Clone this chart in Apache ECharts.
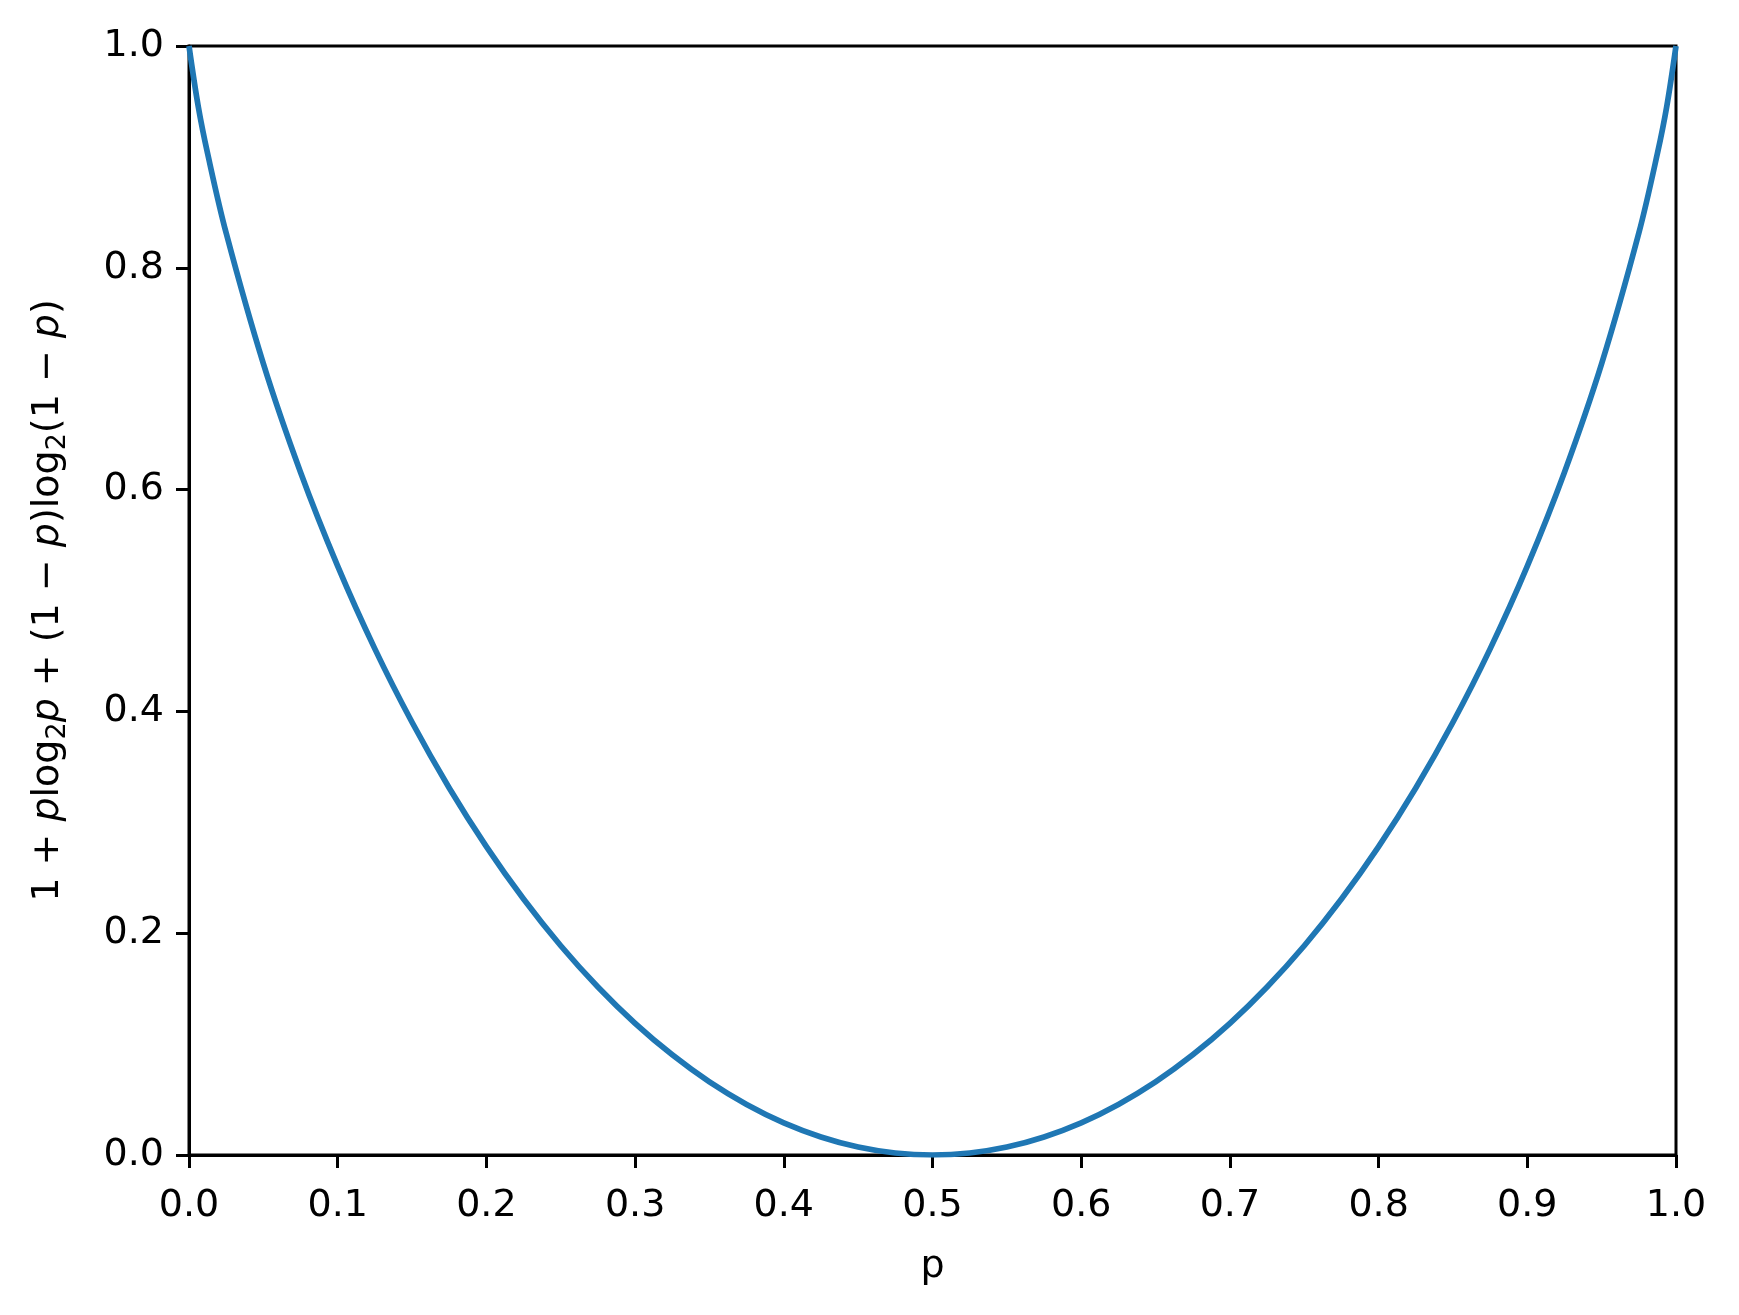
<!DOCTYPE html>
<html>
<head>
<meta charset="utf-8">
<script src="https://cdn.jsdelivr.net/npm/echarts@6/dist/echarts.min.js"></script>
<style>html,body{margin:0;padding:0;background:#fff;}#c{width:1739px;height:1315px;}</style>
</head>
<body>
<div id="c"></div>
<script>
// p values (x) and curve values
const pValues = [0, 0.00625, 0.0125, 0.025, 0.05, 0.075, 0.1, 0.125, 0.15, 0.175, 0.2, 0.225, 0.25, 0.275, 0.3, 0.325, 0.35, 0.375, 0.4, 0.425, 0.45, 0.475, 0.5,
  0.525, 0.55, 0.575, 0.6, 0.625, 0.65, 0.675, 0.7, 0.725, 0.75, 0.775, 0.8, 0.825, 0.85, 0.875, 0.9, 0.925, 0.95, 0.975, 0.9875, 0.99375, 1];
const curveValues = [1, 0.9452, 0.9031, 0.8313, 0.7136, 0.6157, 0.5310, 0.4564, 0.3902, 0.3310, 0.2781, 0.2308, 0.1887, 0.1515, 0.1187, 0.0903, 0.0659, 0.0456, 0.0290, 0.0163, 0.0072, 0.0018, 0,
  0.0018, 0.0072, 0.0163, 0.0290, 0.0456, 0.0659, 0.0903, 0.1187, 0.1515, 0.1887, 0.2308, 0.2781, 0.3310, 0.3902, 0.4564, 0.5310, 0.6157, 0.7136, 0.8313, 0.9031, 0.9452, 1];
const xTicks = [0.0, 0.1, 0.2, 0.3, 0.4, 0.5, 0.6, 0.7, 0.8, 0.9, 1.0];
const yTicks = [0.0, 0.2, 0.4, 0.6, 0.8, 1.0];

const chart = echarts.init(document.getElementById('c'), null, {renderer: 'canvas'});
const font = 'DejaVu Sans';
const axisLine = {show: true, onZero: false, lineStyle: {color: '#000', width: 3}};
const seriesData = pValues.map((p, i) => [p, curveValues[i]]);
const nTok = {fontFamily: font, fontSize: 38, color: '#000', lineHeight: 46};
chart.setOption({
  animation: false,
  backgroundColor: '#fff',
  grid: {left: 189, top: 46, right: 63, bottom: 160, show: true, borderColor: '#000', borderWidth: 3, containLabel: false},
  xAxis: {
    type: 'value', min: 0, max: 1, interval: 0.1,
    name: 'p', nameLocation: 'middle', nameGap: 93,
    nameTextStyle: {fontFamily: font, fontSize: 38, color: '#000'},
    axisLine: axisLine,
    axisTick: {show: true, inside: false, length: 13, lineStyle: {color: '#000', width: 3}},
    axisLabel: {fontFamily: font, fontSize: 38, color: '#000', margin: 32,
      formatter: v => xTicks.find(t => Math.abs(t - v) < 1e-9).toFixed(1)},
    splitLine: {show: false}
  },
  yAxis: {
    type: 'value', min: 0, max: 1, interval: 0.2,
    name: '{n|1 + }{i|p}{n|log}{s|2}{i|p}{n| + (1 − }{i|p}{n|)log}{s|2}{n|(1 − }{i|p}{n|)}',
    nameLocation: 'middle', nameGap: 118, nameRotate: 90,
    nameTextStyle: {fontFamily: font, fontSize: 38, color: '#000',
      rich: {
        n: nTok,
        i: Object.assign({}, nTok, {fontStyle: 'italic'}),
        s: {fontFamily: font, fontSize: 27, color: '#000', lineHeight: 27, verticalAlign: 'bottom'}
      }},
    axisLine: axisLine,
    axisTick: {show: true, inside: false, length: 13, lineStyle: {color: '#000', width: 3}},
    axisLabel: {fontFamily: font, fontSize: 38, color: '#000', margin: 25,
      formatter: v => yTicks.find(t => Math.abs(t - v) < 1e-9).toFixed(1)},
    splitLine: {show: false}
  },
  series: [{
    type: 'line', data: seriesData, smooth: 0.35, showSymbol: false,
    lineStyle: {color: '#1f77b4', width: 5.7}, clip: true
  }]
});
</script>
</body>
</html>
